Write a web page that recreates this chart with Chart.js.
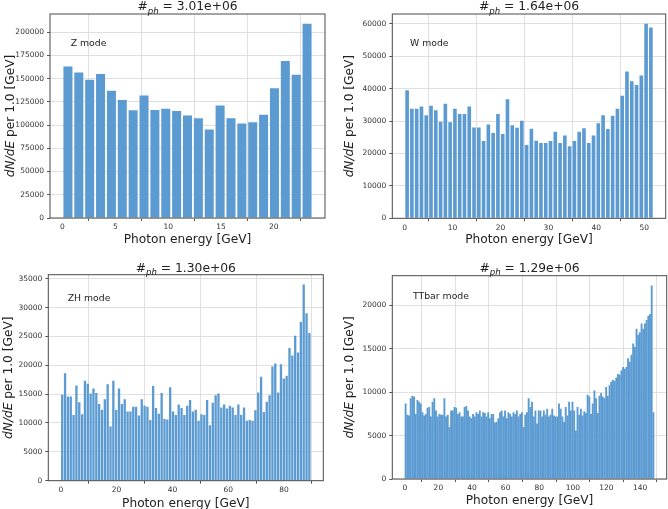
<!DOCTYPE html>
<html>
<head>
<meta charset="utf-8">
<script src="https://cdn.jsdelivr.net/npm/chart.js@4.4.1/dist/chart.umd.min.js"></script>
<style>
  html, body { margin: 0; padding: 0; background: #fff; }
  #wrap { position: relative; width: 668px; height: 509px; overflow: hidden; }
  .panel { position: absolute; }
</style>
</head>
<body>
<div id="wrap">
  <div class="panel" style="left:0;top:0"><canvas id="c0" width="334" height="254"></canvas></div>
  <div class="panel" style="left:334px;top:0"><canvas id="c1" width="334" height="254"></canvas></div>
  <div class="panel" style="left:0;top:254px"><canvas id="c2" width="334" height="255"></canvas></div>
  <div class="panel" style="left:334px;top:254px"><canvas id="c3" width="334" height="255"></canvas></div>
</div>
<script>
// photon counts per bin
const zCounts = [163000, 156500, 148600, 155000, 137000, 127000, 116000, 131700, 116300, 117400,
  115200, 110200, 107300, 95100, 121000, 107300, 101600, 103000, 111000, 139700, 168800, 154000, 209000];
const wCounts = [39500, 33800, 33800, 34500, 31800, 34700, 33300, 29800, 35300, 29600,
  33800, 32200, 32200, 34500, 28000, 28000, 23800, 28900, 26300, 32200,
  26000, 36700, 28700, 27900, 30100, 22600, 27600, 23900, 23200, 23200,
  23800, 26700, 23200, 25500, 22200, 23800, 26700, 27800, 23200, 25500,
  29300, 31800, 27500, 31600, 33800, 37800, 45300, 42300, 41100, 44000, 60000, 58800];
const zhCounts = [14900, 18600, 14600, 14600, 11400, 16500, 13600, 11500, 17300, 16800,
  15100, 16000, 15200, 13300, 12300, 14100, 16700, 9400, 17300, 12300,
  16000, 13300, 14100, 12000, 12000, 12800, 12800, 11300, 14100, 13000,
  12800, 10500, 16400, 12600, 11600, 15200, 10700, 10600, 16200, 12000,
  11400, 13200, 12600, 11400, 13000, 14000, 12000, 12300, 10400, 11500,
  11400, 14000, 9600, 13500, 14800, 15100, 12700, 13200, 12500, 13000,
  12700, 11400, 13200, 11400, 12700, 10400, 10500, 10400, 12200, 15300,
  18000, 11900, 13700, 14800, 19800, 20300, 15300, 20200, 17700, 18200,
  23000, 21700, 25100, 22200, 27500, 34000, 29000, 25600];
const ttCounts = [8700, 7400, 7300, 9300, 9600, 9500, 7500, 9100, 8900, 8700,
  7700, 7300, 7500, 8200, 8300, 7200, 8900, 9300, 7900, 7200,
  7500, 7400, 7400, 9300, 7200, 7400, 6000, 7900, 7900, 8300,
  8200, 7500, 7700, 7200, 7200, 8300, 8400, 7900, 7200, 7000,
  7500, 7200, 7700, 7500, 7900, 7200, 7700, 7600, 7200, 7700,
  7000, 7500, 7500, 6500, 6600, 7000, 7700, 7900, 7200, 7900,
  7000, 7700, 7500, 7200, 7700, 7500, 7900, 7200, 7500, 7700,
  6000, 7400, 7700, 9300, 8300, 8900, 7200, 7900, 6400, 7900,
  7900, 7200, 7900, 7400, 8100, 7200, 7400, 8100, 7300, 7200,
  7200, 8700, 8100, 7200, 6600, 8300, 7300, 8900, 7900, 8900,
  7900, 5600, 8300, 7400, 8100, 7300, 7800, 7600, 9700, 9500,
  7500, 8700, 10200, 9300, 7600, 9600, 9900, 9500, 9300, 10600,
  9600, 10800, 11200, 11400, 11300, 11700, 12100, 12000, 12500, 12900,
  12700, 12900, 13900, 13500, 14300, 15600, 15200, 17300, 16600, 16900,
  17900, 17300, 17900, 18300, 18800, 19000, 22300, 7700];

const allCounts = [zCounts, wCounts, zhCounts, ttCounts];
const energyMax = [23.66, 51.9, 89.6, 148.4];   // upper edge of last bin [GeV]
const photonTotals = ['3.01e+06', '1.64e+06', '1.30e+06', '1.29e+06'];
const modeNames = ['Z mode', 'W mode', 'ZH mode', 'TTbar mode'];
const xTicks = [
  [0, 5, 10, 15, 20],
  [0, 10, 20, 30, 40, 50],
  [0, 20, 40, 60, 80],
  [0, 20, 40, 60, 80, 100, 120, 140]
];
const yTicks = [
  [0, 25000, 50000, 75000, 100000, 125000, 150000, 175000, 200000],
  [0, 10000, 20000, 30000, 40000, 50000, 60000],
  [0, 5000, 10000, 15000, 20000, 25000, 30000, 35000],
  [0, 5000, 10000, 15000, 20000]
];

// canvas geometry per panel (plot box, text anchors)
const layouts = [
  { w: 334, h: 254, L: 50, R: 325, T: 14, B: 218, titleY: 6, xlabY: 239, ylabX: 10, note: [70.7, 44], bar: 0.83 },
  { w: 334, h: 254, L: 58.3, R: 331.7, T: 14, B: 218.3, titleY: 6, xlabY: 239, ylabX: 15, note: [76, 44], bar: 0.76 },
  { w: 334, h: 255, L: 48.3, R: 323.3, T: 20.7, B: 226.7, titleY: 13.3, xlabY: 248.3, ylabX: 7.5, note: [67.7, 44.3], bar: 0.82 },
  { w: 334, h: 255, L: 58.3, R: 332.7, T: 21.7, B: 225, titleY: 13.3, xlabY: 246, ylabX: 15, note: [79, 42.3], bar: 1.12 }
];

const FONT = '"DejaVu Sans", sans-serif';

const drawRich = (ctx, segs, cx, cy, size) => {
  const fontOf = s => `${s.it ? 'italic ' : ''}${s.sub ? size * 0.7 : size}px ${FONT}`;
  let total = 0;
  segs.forEach(s => { ctx.font = fontOf(s); s.w = ctx.measureText(s.t).width; total += s.w; });
  let x = cx - total / 2;
  ctx.textAlign = 'left';
  ctx.textBaseline = 'alphabetic';
  segs.forEach(s => {
    ctx.font = fontOf(s);
    ctx.fillText(s.t, x, cy + size * 0.36 + (s.sub ? size * 0.28 : 0));
    x += s.w;
  });
};

const decor = {
  id: 'decor',
  afterDatasetsDraw(chart, args, o) {
    const { ctx, chartArea: a } = chart;
    ctx.save();
    ctx.strokeStyle = '#4a4a4a';
    ctx.lineWidth = 1;
    ctx.strokeRect(a.left, a.top, a.right - a.left, a.bottom - a.top);
    ctx.fillStyle = '#222';
    drawRich(ctx, [{ t: '#' }, { t: 'ph', it: true, sub: true }, { t: ' = ' + o.total }], (a.left + a.right) / 2, o.lay.titleY, 12.3);
    drawRich(ctx, [{ t: 'Photon energy [GeV]' }], (a.left + a.right) / 2, o.lay.xlabY, 12.2);
    ctx.save();
    ctx.translate(o.lay.ylabX, (a.top + a.bottom) / 2);
    ctx.rotate(-Math.PI / 2);
    drawRich(ctx, [{ t: 'dN/dE', it: true }, { t: ' per 1.0 [GeV]' }], 0, 0, 12.2);
    ctx.restore();
    ctx.font = `9.3px ${FONT}`;
    ctx.textAlign = 'left';
    ctx.textBaseline = 'middle';
    ctx.fillText(o.mode, o.lay.note[0], o.lay.note[1]);
    ctx.restore();
  }
};

allCounts.forEach((counts, k) => {
  const lay = layouts[k];
  const bw = energyMax[k] / counts.length;
  const pts = counts.map((v, i) => ({ x: (i + 0.5) * bw, y: v }));
  const ymax = Math.max(...counts) * 1.05;
  const tickFont = { family: FONT, size: 7.5 };
  const gridOpts = { color: '#dcdcdc', lineWidth: 0.9, tickColor: '#444', tickLength: 3 };
  new Chart(document.getElementById('c' + k), {
    type: 'bar',
    data: { datasets: [{ data: pts, backgroundColor: '#5b9bd2', borderWidth: 0,
      barPercentage: lay.bar, categoryPercentage: 1 }] },
    options: {
      responsive: false, animation: false, devicePixelRatio: 1,
      layout: { padding: { top: lay.T, right: lay.w - lay.R, left: 0, bottom: 0 } },
      plugins: { legend: { display: false }, tooltip: { enabled: false },
        decor: { lay, total: photonTotals[k], mode: modeNames[k] } },
      scales: {
        x: {
          type: 'linear', offset: false,
          min: -0.05 * energyMax[k], max: 1.05 * energyMax[k],
          afterFit: s => { s.height = lay.h - lay.B; },
          afterBuildTicks: s => { s.ticks = xTicks[k].map(v => ({ value: v })); },
          grid: gridOpts,
          border: { display: false },
          ticks: { maxRotation: 0, padding: 2, color: '#333', font: tickFont,
            callback: v => String(v) }
        },
        y: {
          min: 0, max: ymax,
          afterFit: s => { s.width = lay.L; },
          afterBuildTicks: s => { s.ticks = yTicks[k].map(v => ({ value: v })); },
          grid: gridOpts,
          border: { display: false },
          ticks: { padding: 3, color: '#333', font: tickFont, callback: v => String(v) }
        }
      }
    },
    plugins: [decor]
  });
});
</script>
</body>
</html>
